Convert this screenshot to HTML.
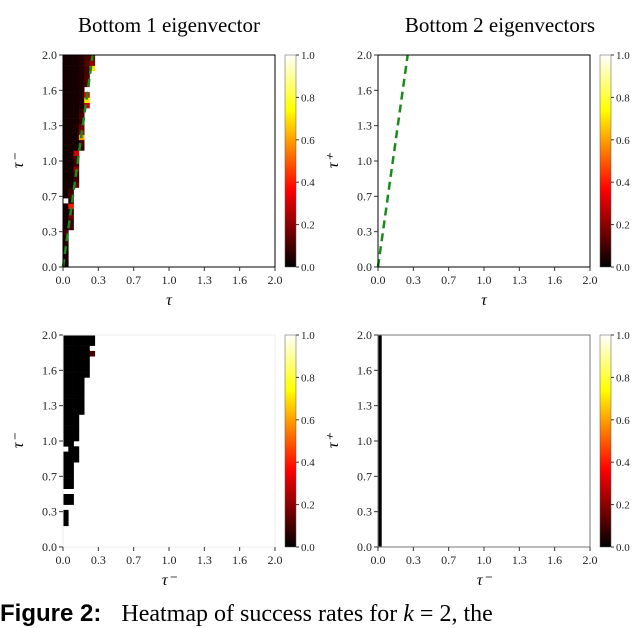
<!DOCTYPE html>
<html><head><meta charset="utf-8"><style>
body{margin:0;background:#fff;width:640px;height:613px;overflow:hidden;position:relative;font-family:"Liberation Serif",serif}
svg{position:absolute;left:0;top:0}
#cap{position:absolute;left:0;top:600px;font-size:24px;white-space:nowrap;font-family:"Liberation Sans",sans-serif}
#cap span{font-family:"Liberation Serif",serif}
</style></head><body>
<svg id="fig" width="640" height="613" xmlns="http://www.w3.org/2000/svg">
<defs><linearGradient id="hotg" x1="0" y1="1" x2="0" y2="0">
<stop offset="0" stop-color="#000"/><stop offset="0.365" stop-color="#f00"/><stop offset="0.74" stop-color="#ff0"/><stop offset="1" stop-color="#fff"/></linearGradient></defs>
</svg>
<div id="cap"><b>Figure 2:</b>&nbsp;&nbsp; <span>Heatmap of success rates for <i>k</i> = 2, the</span></div>
<script>
const ticks=[0,1/3,2/3,1,4/3,5/3,2];
const tickLabels=["0.0","0.3","0.7","1.0","1.3","1.6","2.0"];
const cbTicks=[0,0.2,0.4,0.6,0.8,1.0];
const cbLabels=["0.0","0.2","0.4","0.6","0.8","1.0"];
const cellW=0.05, cellH=0.05;
// rows from y=0 upward; each row lists values of columns from x=0; null = no data
const topLeft=[
[0.03],[0.05],[0.03],[0.03],[0.05],[0.05],[0.1],
[0.03,0.1],[0.03,0.08],[0.03,0.15],[0.03,0.08],[0.03,0.4],[null,0.05],[0.03,0.1],[0.03,0.08],
[0.03,0.03,0.15],[0.03,0.03,0.08],[0.03,0.03,0.1],[0.03,0.03,0.2],[0.03,0.03,0.08],[0.03,0.03,0.12],[0.03,0.03,0.3],
[0.03,0.03,0.03,0.08],[0.03,0.03,0.03,0.1],[0.03,0.03,0.03,0.6],[0.03,0.03,0.03,0.2],[0.03,0.03,0.05,0.15],[0.03,0.03,0.03,0.08],[0.03,0.03,0.03,0.1],[0.03,0.03,0.03,0.08],
[0.03,0.03,0.03,0.05,0.3],[0.03,0.03,0.03,0.05,0.7],[0.03,0.03,0.03,0.05,0.35],[0.03,0.03,0.03,0.05,null],[0.03,0.03,0.03,0.05,0.1],[0.03,0.03,0.03,0.05,0.12],[0.03,0.03,0.03,0.05,0.1],
[0.03,0.03,0.03,0.05,0.1,0.7],[0.03,0.03,0.03,0.05,0.12,0.2],[0.03,0.03,0.03,0.05,0.1,0.15]
];
const topRight=[];
const bottomLeft=[
[],[],[],[],
[0],[0],[0],[null],[0,0],[0,0],[null],[0,0],[0,0],[0,0],[0,0,null],[0,0],[0,0,0],[0,0,0],[null,0,0],[0,0],
[0,0,0],[0,0,0],[0,0,0],[0,0,0],[0,0,0],[0,0,0,0],[0,0,0,0],[0,0,0,0],[0,0,0,0],[0,0,0,0],
[0,0,0,0],[0,0,0,0],[0,0,0,0,0],[0,0,0,0,0],[0,0,0,0,0],[0,0,0,0,0],[0,0,0,0,0,0.1],[0,0,0,0,0],[0,0,0,0,0,0],[0,0,0,0,0,0]
];
const bottomRightCols=[0];
const bottomRightValue=0;
const bottomRightColW=0.035;
const lineX=[0,0.28], lineY=[0,2.0];

const svg=document.getElementById('fig');
const NS="http://www.w3.org/2000/svg";
function mk(t,a,p){const e=document.createElementNS(NS,t);for(const k in a)e.setAttribute(k,a[k]);(p||svg).appendChild(e);return e;}
function hot(v){const c=x=>Math.round(255*Math.max(0,Math.min(1,x)));return `rgb(${c(v/0.365)},${c((v-0.365)/0.375)},${c((v-0.74)/0.26)})`;}

function panel(name,x0,y0,w,h,rows,opts){
  const g=mk('g',{});
  
  
  const sx=v=>x0+v/2*w, sy=v=>y0+h-v/2*h;
  rows.forEach((row,i)=>row.forEach((v,j)=>{if(v===null)return;
    const r=mk('rect',{x:sx(j*cellW),y:sy((i+1)*cellH),width:sx((j+1)*cellW)-sx(j*cellW)+0.3,height:sy(i*cellH)-sy((i+1)*cellH)+0.3,fill:hot(v)},g);
    }));
  if(opts.cols){opts.cols.forEach(c=>{const r=mk('rect',{x:sx(c),y:sy(2),width:sx(c+bottomRightColW)-sx(c),height:h,fill:hot(bottomRightValue)},g);
    });}
  if(opts.line){const l=mk('line',{x1:sx(lineX[0]),y1:sy(lineY[0]),x2:sx(lineX[1]),y2:sy(lineY[1]),stroke:'#1a8a1a','stroke-width':2.5,'stroke-dasharray':'8,5'},g);
    }
  const fr=mk('rect',{x:x0,y:y0,width:w,height:h,fill:'none',stroke:opts.frame,'stroke-width':1},g);
  
  ticks.forEach((t,i)=>{
    mk('line',{x1:sx(t),y1:y0+h,x2:sx(t),y2:y0+h+4,stroke:'#333'},g);
    const tx=mk('text',{x:sx(t),y:y0+h+17,'font-size':12,'text-anchor':'middle',fill:'#222'},g);tx.textContent=tickLabels[i];
    
    mk('line',{x1:x0-4,y1:sy(t),x2:x0,y2:sy(t),stroke:'#333'},g);
    const ty=mk('text',{x:x0-6,y:sy(t)+4,'font-size':12,'text-anchor':'end',fill:'#222'},g);ty.textContent=tickLabels[i];
    
  });
  const xl=mk('text',{x:x0+w/2,y:y0+h+38,'font-size':16,'font-style':'italic','text-anchor':'middle'},g);xl.textContent=opts.xlab;
  
  const yl=mk('text',{x:0,y:0,'font-size':16,'font-style':'italic','text-anchor':'middle',transform:`translate(${x0-40},${y0+h/2}) rotate(-90)`},g);yl.textContent=opts.ylab;
  
  const cx=x0+w+10, cw=11;
  const cb=mk('rect',{x:cx,y:y0,width:cw,height:h,fill:'url(#hotg)',stroke:'#555','stroke-width':0.5},g);
  
  cbTicks.forEach((t,i)=>{const yy=y0+h-t*h;
    mk('line',{x1:cx+cw,y1:yy,x2:cx+cw+3,y2:yy,stroke:'#333'},g);
    const ct=mk('text',{x:cx+cw+5,y:yy+4,'font-size':11,fill:'#222'},g);ct.textContent=cbLabels[i];
    });
  if(opts.title){const tt=mk('text',{x:x0+w/2+(opts.tdx||0),y:32,'font-size':21,'text-anchor':'middle'},g);tt.textContent=opts.title;
    }
}
panel('heatmap-top-left',63,55,212,212,topLeft,{line:true,frame:'#000',xlab:'τ',ylab:'τ⁻',title:'Bottom 1 eigenvector'});
panel('heatmap-top-right',378,55,212,212,topRight,{line:true,frame:'#000',xlab:'τ',ylab:'τ⁺',title:'Bottom 2 eigenvectors',tdx:16});
panel('heatmap-bottom-left',63,335,212,212,bottomLeft,{frame:'#eee',xlab:'τ⁻',ylab:'τ⁻'});
panel('heatmap-bottom-right',378,335,212,212,[],{cols:bottomRightCols,frame:'#777',xlab:'τ⁻',ylab:'τ⁺'});
</script>
</body></html>
